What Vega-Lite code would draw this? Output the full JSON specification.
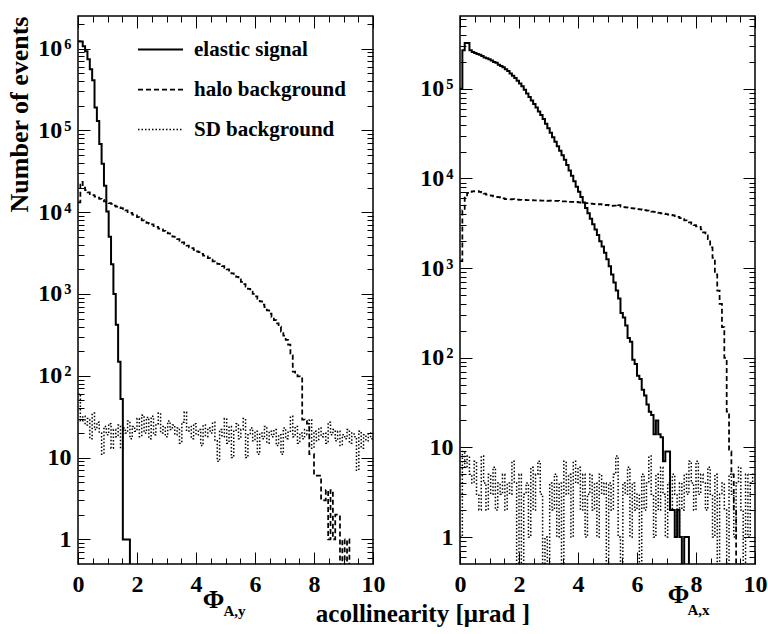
{
"$schema": "https://vega.github.io/schema/vega-lite/v6.json",
"background": "white",
"padding": {"left": 6, "top": 14, "right": 2, "bottom": 4},
"config": {
  "font": "Liberation Serif",
  "view": {"stroke": "black", "strokeWidth": 1.5},
  "axis": {"labelFont": "Liberation Serif", "labelFontWeight": "bold", "labelFontSize": 24, "labelColor": "black", "tickColor": "black", "tickWidth": 1, "domain": false, "grid": false, "labelFlush": false, "titleFont": "Liberation Serif", "titleFontWeight": "bold", "titleColor": "black"},
  "legend": {"labelFont": "Liberation Serif", "labelFontWeight": "bold", "labelFontSize": 21, "labelColor": "black"}
},
"title": {"text": "acollinearity [\u03bcrad ]", "orient": "bottom", "anchor": "middle", "fontSize": 25, "font": "Liberation Serif", "fontWeight": "bold", "color": "black", "offset": -17, "dx": 36},
"datasets": {
"left": [
{"series":"E","x":0,"n":1230000},{"series":"E","x":0.08,"n":1220000},{"series":"E","x":0.16,"n":1070000},{"series":"E","x":0.24,"n":930000},{"series":"E","x":0.32,"n":740000},{"series":"E","x":0.4,"n":560000},{"series":"E","x":0.48,"n":410000},{"series":"E","x":0.56,"n":190000},{"series":"E","x":0.64,"n":130000},{"series":"E","x":0.72,"n":68000},{"series":"E","x":0.8,"n":39000},{"series":"E","x":0.88,"n":21000},{"series":"E","x":0.96,"n":10200},{"series":"E","x":1.04,"n":5000},{"series":"E","x":1.12,"n":2300},{"series":"E","x":1.2,"n":1000},{"series":"E","x":1.28,"n":420},{"series":"E","x":1.36,"n":148},{"series":"E","x":1.44,"n":52},{"series":"E","x":1.52,"n":1},{"series":"E","x":1.6,"n":1},{"series":"E","x":1.68,"n":1},{"series":"E","x":1.76,"n":0.1},
{"series":"H","x":0,"n":13200},{"series":"H","x":0.08,"n":23400},{"series":"H","x":0.16,"n":20000},{"series":"H","x":0.24,"n":18600},{"series":"H","x":0.32,"n":17400},{"series":"H","x":0.4,"n":16600},{"series":"H","x":0.48,"n":16200},{"series":"H","x":0.56,"n":15500},{"series":"H","x":0.64,"n":15100},{"series":"H","x":0.72,"n":14500},{"series":"H","x":0.8,"n":14100},{"series":"H","x":0.88,"n":13500},{"series":"H","x":0.96,"n":13200},{"series":"H","x":1.04,"n":12900},{"series":"H","x":1.12,"n":12600},{"series":"H","x":1.2,"n":12000},{"series":"H","x":1.28,"n":11700},{"series":"H","x":1.36,"n":11500},{"series":"H","x":1.44,"n":11200},{"series":"H","x":1.52,"n":11000},{"series":"H","x":1.6,"n":10500},{"series":"H","x":1.68,"n":10000},{"series":"H","x":1.76,"n":9770},{"series":"H","x":1.84,"n":9330},{"series":"H","x":1.92,"n":9120},{"series":"H","x":2,"n":8710},{"series":"H","x":2.08,"n":8320},{"series":"H","x":2.16,"n":7940},{"series":"H","x":2.24,"n":7760},{"series":"H","x":2.32,"n":7410},{"series":"H","x":2.4,"n":7240},{"series":"H","x":2.48,"n":7080},{"series":"H","x":2.56,"n":6760},{"series":"H","x":2.64,"n":6610},{"series":"H","x":2.72,"n":6310},{"series":"H","x":2.8,"n":6170},{"series":"H","x":2.88,"n":5890},{"series":"H","x":2.96,"n":5620},{"series":"H","x":3.04,"n":5500},{"series":"H","x":3.12,"n":5250},{"series":"H","x":3.2,"n":5010},{"series":"H","x":3.28,"n":4790},{"series":"H","x":3.36,"n":4680},{"series":"H","x":3.44,"n":4470},{"series":"H","x":3.52,"n":4270},{"series":"H","x":3.6,"n":4070},{"series":"H","x":3.68,"n":3890},{"series":"H","x":3.76,"n":3720},{"series":"H","x":3.84,"n":3630},{"series":"H","x":3.92,"n":3470},{"series":"H","x":4,"n":3310},{"series":"H","x":4.08,"n":3240},{"series":"H","x":4.16,"n":3090},{"series":"H","x":4.24,"n":2950},{"series":"H","x":4.32,"n":2880},{"series":"H","x":4.4,"n":2750},{"series":"H","x":4.48,"n":2630},{"series":"H","x":4.56,"n":2510},{"series":"H","x":4.64,"n":2450},{"series":"H","x":4.72,"n":2340},{"series":"H","x":4.8,"n":2240},{"series":"H","x":4.88,"n":2190},{"series":"H","x":4.96,"n":2090},{"series":"H","x":5.04,"n":2000},{"series":"H","x":5.12,"n":1860},{"series":"H","x":5.2,"n":1780},{"series":"H","x":5.28,"n":1700},{"series":"H","x":5.36,"n":1620},{"series":"H","x":5.44,"n":1510},{"series":"H","x":5.52,"n":1410},{"series":"H","x":5.6,"n":1320},{"series":"H","x":5.68,"n":1230},{"series":"H","x":5.76,"n":1150},{"series":"H","x":5.84,"n":1070},{"series":"H","x":5.92,"n":1000},{"series":"H","x":6,"n":933},{"series":"H","x":6.08,"n":871},{"series":"H","x":6.16,"n":813},{"series":"H","x":6.24,"n":741},{"series":"H","x":6.32,"n":692},{"series":"H","x":6.4,"n":631},{"series":"H","x":6.48,"n":575},{"series":"H","x":6.56,"n":525},{"series":"H","x":6.64,"n":479},{"series":"H","x":6.72,"n":437},{"series":"H","x":6.8,"n":398},{"series":"H","x":6.88,"n":347},{"series":"H","x":6.96,"n":309},{"series":"H","x":7.04,"n":275},{"series":"H","x":7.12,"n":240},{"series":"H","x":7.2,"n":178},{"series":"H","x":7.28,"n":112},{"series":"H","x":7.36,"n":105},{"series":"H","x":7.44,"n":98},{"series":"H","x":7.52,"n":93},{"series":"H","x":7.6,"n":29},{"series":"H","x":7.68,"n":28},{"series":"H","x":7.76,"n":26},{"series":"H","x":7.84,"n":11},{"series":"H","x":7.92,"n":11},{"series":"H","x":8,"n":6},{"series":"H","x":8.08,"n":6},{"series":"H","x":8.16,"n":6},{"series":"H","x":8.24,"n":3},{"series":"H","x":8.32,"n":3},{"series":"H","x":8.4,"n":4},{"series":"H","x":8.48,"n":1},{"series":"H","x":8.56,"n":4},{"series":"H","x":8.64,"n":1},{"series":"H","x":8.72,"n":2},{"series":"H","x":8.8,"n":2},{"series":"H","x":8.88,"n":0.1},{"series":"H","x":8.96,"n":1},{"series":"H","x":9.04,"n":0.1},{"series":"H","x":9.12,"n":1},{"series":"H","x":9.2,"n":0.1},
{"series":"S","x":0,"n":60},{"series":"S","x":0.08,"n":28},{"series":"S","x":0.16,"n":32},{"series":"S","x":0.24,"n":25},{"series":"S","x":0.32,"n":30},{"series":"S","x":0.4,"n":17},{"series":"S","x":0.48,"n":35},{"series":"S","x":0.56,"n":22},{"series":"S","x":0.64,"n":27},{"series":"S","x":0.72,"n":20},{"series":"S","x":0.8,"n":11},{"series":"S","x":0.88,"n":24},{"series":"S","x":0.96,"n":19},{"series":"S","x":1.04,"n":26},{"series":"S","x":1.12,"n":13},{"series":"S","x":1.2,"n":22},{"series":"S","x":1.28,"n":18},{"series":"S","x":1.36,"n":25},{"series":"S","x":1.44,"n":13},{"series":"S","x":1.52,"n":23},{"series":"S","x":1.6,"n":20},{"series":"S","x":1.68,"n":28},{"series":"S","x":1.76,"n":17},{"series":"S","x":1.84,"n":24},{"series":"S","x":1.92,"n":21},{"series":"S","x":2,"n":30},{"series":"S","x":2.08,"n":18},{"series":"S","x":2.16,"n":33},{"series":"S","x":2.24,"n":20},{"series":"S","x":2.32,"n":31},{"series":"S","x":2.4,"n":17},{"series":"S","x":2.48,"n":32},{"series":"S","x":2.56,"n":19},{"series":"S","x":2.64,"n":26},{"series":"S","x":2.72,"n":35},{"series":"S","x":2.8,"n":20},{"series":"S","x":2.88,"n":24},{"series":"S","x":2.96,"n":18},{"series":"S","x":3.04,"n":28},{"series":"S","x":3.12,"n":22},{"series":"S","x":3.2,"n":25},{"series":"S","x":3.28,"n":19},{"series":"S","x":3.36,"n":23},{"series":"S","x":3.44,"n":15},{"series":"S","x":3.52,"n":27},{"series":"S","x":3.6,"n":36},{"series":"S","x":3.68,"n":21},{"series":"S","x":3.76,"n":24},{"series":"S","x":3.84,"n":17},{"series":"S","x":3.92,"n":26},{"series":"S","x":4,"n":19},{"series":"S","x":4.08,"n":22},{"series":"S","x":4.16,"n":14},{"series":"S","x":4.24,"n":25},{"series":"S","x":4.32,"n":18},{"series":"S","x":4.4,"n":23},{"series":"S","x":4.48,"n":20},{"series":"S","x":4.56,"n":27},{"series":"S","x":4.64,"n":16},{"series":"S","x":4.72,"n":9},{"series":"S","x":4.8,"n":22},{"series":"S","x":4.88,"n":18},{"series":"S","x":4.96,"n":30},{"series":"S","x":5.04,"n":15},{"series":"S","x":5.12,"n":24},{"series":"S","x":5.2,"n":10},{"series":"S","x":5.28,"n":21},{"series":"S","x":5.36,"n":26},{"series":"S","x":5.44,"n":17},{"series":"S","x":5.52,"n":22},{"series":"S","x":5.6,"n":30},{"series":"S","x":5.68,"n":10},{"series":"S","x":5.76,"n":19},{"series":"S","x":5.84,"n":23},{"series":"S","x":5.92,"n":16},{"series":"S","x":6,"n":21},{"series":"S","x":6.08,"n":11},{"series":"S","x":6.16,"n":20},{"series":"S","x":6.24,"n":17},{"series":"S","x":6.32,"n":24},{"series":"S","x":6.4,"n":15},{"series":"S","x":6.48,"n":21},{"series":"S","x":6.56,"n":18},{"series":"S","x":6.64,"n":22},{"series":"S","x":6.72,"n":14},{"series":"S","x":6.8,"n":19},{"series":"S","x":6.88,"n":11},{"series":"S","x":6.96,"n":23},{"series":"S","x":7.04,"n":17},{"series":"S","x":7.12,"n":21},{"series":"S","x":7.2,"n":32},{"series":"S","x":7.28,"n":18},{"series":"S","x":7.36,"n":24},{"series":"S","x":7.44,"n":15},{"series":"S","x":7.52,"n":20},{"series":"S","x":7.6,"n":17},{"series":"S","x":7.68,"n":22},{"series":"S","x":7.76,"n":19},{"series":"S","x":7.84,"n":29},{"series":"S","x":7.92,"n":13},{"series":"S","x":8,"n":21},{"series":"S","x":8.08,"n":16},{"series":"S","x":8.16,"n":23},{"series":"S","x":8.24,"n":18},{"series":"S","x":8.32,"n":20},{"series":"S","x":8.4,"n":15},{"series":"S","x":8.48,"n":27},{"series":"S","x":8.56,"n":19},{"series":"S","x":8.64,"n":22},{"series":"S","x":8.72,"n":16},{"series":"S","x":8.8,"n":21},{"series":"S","x":8.88,"n":14},{"series":"S","x":8.96,"n":19},{"series":"S","x":9.04,"n":17},{"series":"S","x":9.12,"n":22},{"series":"S","x":9.2,"n":15},{"series":"S","x":9.28,"n":20},{"series":"S","x":9.36,"n":18},{"series":"S","x":9.44,"n":7},{"series":"S","x":9.52,"n":21},{"series":"S","x":9.6,"n":13},{"series":"S","x":9.68,"n":19},{"series":"S","x":9.76,"n":16},{"series":"S","x":9.84,"n":20},{"series":"S","x":9.92,"n":17},{"series":"S","x":10,"n":17}
],
"right": [
{"series":"E","x":0,"n":100000},{"series":"E","x":0.08,"n":270000},{"series":"E","x":0.16,"n":324000},{"series":"E","x":0.24,"n":324000},{"series":"E","x":0.32,"n":270000},{"series":"E","x":0.4,"n":257000},{"series":"E","x":0.48,"n":251000},{"series":"E","x":0.56,"n":245000},{"series":"E","x":0.64,"n":240000},{"series":"E","x":0.72,"n":232000},{"series":"E","x":0.8,"n":224000},{"series":"E","x":0.88,"n":219000},{"series":"E","x":0.96,"n":214000},{"series":"E","x":1.04,"n":207000},{"series":"E","x":1.12,"n":200000},{"series":"E","x":1.2,"n":195000},{"series":"E","x":1.28,"n":186000},{"series":"E","x":1.36,"n":180000},{"series":"E","x":1.44,"n":174000},{"series":"E","x":1.52,"n":166000},{"series":"E","x":1.6,"n":158000},{"series":"E","x":1.68,"n":148000},{"series":"E","x":1.76,"n":140000},{"series":"E","x":1.84,"n":132000},{"series":"E","x":1.92,"n":123000},{"series":"E","x":2,"n":115000},{"series":"E","x":2.08,"n":107000},{"series":"E","x":2.16,"n":98000},{"series":"E","x":2.24,"n":89000},{"series":"E","x":2.32,"n":81000},{"series":"E","x":2.4,"n":74000},{"series":"E","x":2.48,"n":68000},{"series":"E","x":2.56,"n":62000},{"series":"E","x":2.64,"n":56000},{"series":"E","x":2.72,"n":51000},{"series":"E","x":2.8,"n":46000},{"series":"E","x":2.88,"n":40700},{"series":"E","x":2.96,"n":36300},{"series":"E","x":3.04,"n":32400},{"series":"E","x":3.12,"n":28800},{"series":"E","x":3.2,"n":25700},{"series":"E","x":3.28,"n":22900},{"series":"E","x":3.36,"n":20400},{"series":"E","x":3.44,"n":18200},{"series":"E","x":3.52,"n":16200},{"series":"E","x":3.6,"n":14100},{"series":"E","x":3.68,"n":12300},{"series":"E","x":3.76,"n":10700},{"series":"E","x":3.84,"n":9300},{"series":"E","x":3.92,"n":8100},{"series":"E","x":4,"n":7100},{"series":"E","x":4.08,"n":6200},{"series":"E","x":4.16,"n":5400},{"series":"E","x":4.24,"n":4700},{"series":"E","x":4.32,"n":4100},{"series":"E","x":4.4,"n":3550},{"series":"E","x":4.48,"n":3090},{"series":"E","x":4.56,"n":2690},{"series":"E","x":4.64,"n":2340},{"series":"E","x":4.72,"n":2000},{"series":"E","x":4.8,"n":1740},{"series":"E","x":4.88,"n":1480},{"series":"E","x":4.96,"n":1260},{"series":"E","x":5.04,"n":1050},{"series":"E","x":5.12,"n":851},{"series":"E","x":5.2,"n":692},{"series":"E","x":5.28,"n":562},{"series":"E","x":5.36,"n":457},{"series":"E","x":5.44,"n":316},{"series":"E","x":5.52,"n":282},{"series":"E","x":5.6,"n":229},{"series":"E","x":5.68,"n":166},{"series":"E","x":5.76,"n":151},{"series":"E","x":5.84,"n":95},{"series":"E","x":5.92,"n":85},{"series":"E","x":6,"n":63},{"series":"E","x":6.08,"n":58},{"series":"E","x":6.16,"n":44},{"series":"E","x":6.24,"n":38},{"series":"E","x":6.32,"n":30},{"series":"E","x":6.4,"n":25},{"series":"E","x":6.48,"n":23},{"series":"E","x":6.56,"n":14},{"series":"E","x":6.64,"n":20},{"series":"E","x":6.72,"n":14},{"series":"E","x":6.8,"n":13},{"series":"E","x":6.88,"n":7},{"series":"E","x":6.96,"n":9},{"series":"E","x":7.04,"n":9},{"series":"E","x":7.12,"n":2},{"series":"E","x":7.2,"n":2},{"series":"E","x":7.28,"n":1},{"series":"E","x":7.36,"n":2},{"series":"E","x":7.44,"n":1},{"series":"E","x":7.52,"n":0.1},{"series":"E","x":7.6,"n":1},{"series":"E","x":7.68,"n":1},{"series":"E","x":7.76,"n":0.1},
{"series":"H","x":0,"n":1200},{"series":"H","x":0.08,"n":4400},{"series":"H","x":0.16,"n":6500},{"series":"H","x":0.24,"n":6900},{"series":"H","x":0.32,"n":7100},{"series":"H","x":0.4,"n":7200},{"series":"H","x":0.48,"n":7240},{"series":"H","x":0.56,"n":7240},{"series":"H","x":0.64,"n":7100},{"series":"H","x":0.72,"n":7000},{"series":"H","x":0.8,"n":6800},{"series":"H","x":0.88,"n":6600},{"series":"H","x":0.96,"n":6500},{"series":"H","x":1.04,"n":6450},{"series":"H","x":1.12,"n":6300},{"series":"H","x":1.2,"n":6250},{"series":"H","x":1.28,"n":6200},{"series":"H","x":1.36,"n":6100},{"series":"H","x":1.44,"n":6000},{"series":"H","x":1.52,"n":5900},{"series":"H","x":1.6,"n":5880},{"series":"H","x":1.68,"n":5850},{"series":"H","x":1.76,"n":5870},{"series":"H","x":1.84,"n":5820},{"series":"H","x":1.92,"n":5800},{"series":"H","x":2,"n":5790},{"series":"H","x":2.08,"n":5760},{"series":"H","x":2.16,"n":5780},{"series":"H","x":2.24,"n":5740},{"series":"H","x":2.32,"n":5720},{"series":"H","x":2.4,"n":5750},{"series":"H","x":2.48,"n":5700},{"series":"H","x":2.56,"n":5690},{"series":"H","x":2.64,"n":5710},{"series":"H","x":2.72,"n":5670},{"series":"H","x":2.8,"n":5660},{"series":"H","x":2.88,"n":5680},{"series":"H","x":2.96,"n":5640},{"series":"H","x":3.04,"n":5650},{"series":"H","x":3.12,"n":5620},{"series":"H","x":3.2,"n":5610},{"series":"H","x":3.28,"n":5630},{"series":"H","x":3.36,"n":5590},{"series":"H","x":3.44,"n":5570},{"series":"H","x":3.52,"n":5540},{"series":"H","x":3.6,"n":5560},{"series":"H","x":3.68,"n":5500},{"series":"H","x":3.76,"n":5480},{"series":"H","x":3.84,"n":5450},{"series":"H","x":3.92,"n":5470},{"series":"H","x":4,"n":5400},{"series":"H","x":4.08,"n":5380},{"series":"H","x":4.16,"n":5350},{"series":"H","x":4.24,"n":5300},{"series":"H","x":4.32,"n":5320},{"series":"H","x":4.4,"n":5240},{"series":"H","x":4.48,"n":5220},{"series":"H","x":4.56,"n":5190},{"series":"H","x":4.64,"n":5150},{"series":"H","x":4.72,"n":5180},{"series":"H","x":4.8,"n":5100},{"series":"H","x":4.88,"n":5050},{"series":"H","x":4.96,"n":5070},{"series":"H","x":5.04,"n":5000},{"series":"H","x":5.12,"n":4960},{"series":"H","x":5.2,"n":4990},{"series":"H","x":5.28,"n":5150},{"series":"H","x":5.36,"n":5050},{"series":"H","x":5.44,"n":4850},{"series":"H","x":5.52,"n":4790},{"series":"H","x":5.6,"n":4760},{"series":"H","x":5.68,"n":4720},{"series":"H","x":5.76,"n":4680},{"series":"H","x":5.84,"n":4650},{"series":"H","x":5.92,"n":4600},{"series":"H","x":6,"n":4560},{"series":"H","x":6.08,"n":4520},{"series":"H","x":6.16,"n":4480},{"series":"H","x":6.24,"n":4430},{"series":"H","x":6.32,"n":4390},{"series":"H","x":6.4,"n":4330},{"series":"H","x":6.48,"n":4280},{"series":"H","x":6.56,"n":4230},{"series":"H","x":6.64,"n":4170},{"series":"H","x":6.72,"n":4130},{"series":"H","x":6.8,"n":4090},{"series":"H","x":6.88,"n":4050},{"series":"H","x":6.96,"n":4010},{"series":"H","x":7.04,"n":3960},{"series":"H","x":7.12,"n":3920},{"series":"H","x":7.2,"n":3880},{"series":"H","x":7.28,"n":3800},{"series":"H","x":7.36,"n":3720},{"series":"H","x":7.44,"n":3620},{"series":"H","x":7.52,"n":3520},{"series":"H","x":7.6,"n":3420},{"series":"H","x":7.68,"n":3320},{"series":"H","x":7.76,"n":3240},{"series":"H","x":7.84,"n":3120},{"series":"H","x":7.92,"n":3010},{"series":"H","x":8,"n":2930},{"series":"H","x":8.08,"n":2880},{"series":"H","x":8.16,"n":2700},{"series":"H","x":8.24,"n":2500},{"series":"H","x":8.32,"n":2320},{"series":"H","x":8.4,"n":2100},{"series":"H","x":8.48,"n":1700},{"series":"H","x":8.56,"n":1300},{"series":"H","x":8.64,"n":850},{"series":"H","x":8.72,"n":560},{"series":"H","x":8.8,"n":400},{"series":"H","x":8.88,"n":220},{"series":"H","x":8.96,"n":100},{"series":"H","x":9.04,"n":25},{"series":"H","x":9.12,"n":9},{"series":"H","x":9.2,"n":5},{"series":"H","x":9.28,"n":2},{"series":"H","x":9.36,"n":0.1},
{"series":"S","x":0,"n":1},{"series":"S","x":0.08,"n":9},{"series":"S","x":0.16,"n":6},{"series":"S","x":0.24,"n":8},{"series":"S","x":0.32,"n":5},{"series":"S","x":0.4,"n":4},{"series":"S","x":0.48,"n":7},{"series":"S","x":0.56,"n":3},{"series":"S","x":0.64,"n":2},{"series":"S","x":0.72,"n":8},{"series":"S","x":0.8,"n":4},{"series":"S","x":0.88,"n":2},{"series":"S","x":0.96,"n":5},{"series":"S","x":1.04,"n":3},{"series":"S","x":1.12,"n":6},{"series":"S","x":1.2,"n":2},{"series":"S","x":1.28,"n":4},{"series":"S","x":1.36,"n":3},{"series":"S","x":1.44,"n":5},{"series":"S","x":1.52,"n":2},{"series":"S","x":1.6,"n":4},{"series":"S","x":1.68,"n":3},{"series":"S","x":1.76,"n":7},{"series":"S","x":1.84,"n":4},{"series":"S","x":1.92,"n":0.1},{"series":"S","x":2,"n":5},{"series":"S","x":2.08,"n":0.1},{"series":"S","x":2.16,"n":3},{"series":"S","x":2.24,"n":4},{"series":"S","x":2.32,"n":1},{"series":"S","x":2.4,"n":6},{"series":"S","x":2.48,"n":2},{"series":"S","x":2.56,"n":5},{"series":"S","x":2.64,"n":7},{"series":"S","x":2.72,"n":3},{"series":"S","x":2.8,"n":0.1},{"series":"S","x":2.88,"n":1},{"series":"S","x":2.96,"n":0.1},{"series":"S","x":3.04,"n":4},{"series":"S","x":3.12,"n":2},{"series":"S","x":3.2,"n":5},{"series":"S","x":3.28,"n":1},{"series":"S","x":3.36,"n":4},{"series":"S","x":3.44,"n":0.1},{"series":"S","x":3.52,"n":7},{"series":"S","x":3.6,"n":3},{"series":"S","x":3.68,"n":5},{"series":"S","x":3.76,"n":1},{"series":"S","x":3.84,"n":7},{"series":"S","x":3.92,"n":4},{"series":"S","x":4,"n":6},{"series":"S","x":4.08,"n":2},{"series":"S","x":4.16,"n":5},{"series":"S","x":4.24,"n":1},{"series":"S","x":4.32,"n":3},{"series":"S","x":4.4,"n":5},{"series":"S","x":4.48,"n":2},{"series":"S","x":4.56,"n":4},{"series":"S","x":4.64,"n":1},{"series":"S","x":4.72,"n":5},{"series":"S","x":4.8,"n":3},{"series":"S","x":4.88,"n":4},{"series":"S","x":4.96,"n":0.1},{"series":"S","x":5.04,"n":4},{"series":"S","x":5.12,"n":2},{"series":"S","x":5.2,"n":5},{"series":"S","x":5.28,"n":8},{"series":"S","x":5.36,"n":1},{"series":"S","x":5.44,"n":0.1},{"series":"S","x":5.52,"n":4},{"series":"S","x":5.6,"n":3},{"series":"S","x":5.68,"n":6},{"series":"S","x":5.76,"n":1},{"series":"S","x":5.84,"n":4},{"series":"S","x":5.92,"n":2},{"series":"S","x":6,"n":3},{"series":"S","x":6.08,"n":0.1},{"series":"S","x":6.16,"n":5},{"series":"S","x":6.24,"n":2},{"series":"S","x":6.32,"n":4},{"series":"S","x":6.4,"n":8},{"series":"S","x":6.48,"n":3},{"series":"S","x":6.56,"n":1},{"series":"S","x":6.64,"n":5},{"series":"S","x":6.72,"n":2},{"series":"S","x":6.8,"n":6},{"series":"S","x":6.88,"n":3},{"series":"S","x":6.96,"n":1},{"series":"S","x":7.04,"n":4},{"series":"S","x":7.12,"n":2},{"series":"S","x":7.2,"n":5},{"series":"S","x":7.28,"n":3},{"series":"S","x":7.36,"n":1},{"series":"S","x":7.44,"n":4},{"series":"S","x":7.52,"n":2},{"series":"S","x":7.6,"n":5},{"series":"S","x":7.68,"n":3},{"series":"S","x":7.76,"n":7},{"series":"S","x":7.84,"n":4},{"series":"S","x":7.92,"n":2},{"series":"S","x":8,"n":7},{"series":"S","x":8.08,"n":3},{"series":"S","x":8.16,"n":5},{"series":"S","x":8.24,"n":4},{"series":"S","x":8.32,"n":2},{"series":"S","x":8.4,"n":6},{"series":"S","x":8.48,"n":3},{"series":"S","x":8.56,"n":1},{"series":"S","x":8.64,"n":5},{"series":"S","x":8.72,"n":0.1},{"series":"S","x":8.8,"n":3},{"series":"S","x":8.88,"n":4},{"series":"S","x":8.96,"n":2},{"series":"S","x":9.04,"n":0.1},{"series":"S","x":9.12,"n":5},{"series":"S","x":9.2,"n":3},{"series":"S","x":9.28,"n":1},{"series":"S","x":9.36,"n":4},{"series":"S","x":9.44,"n":6},{"series":"S","x":9.52,"n":2},{"series":"S","x":9.6,"n":0.1},{"series":"S","x":9.68,"n":5},{"series":"S","x":9.76,"n":1},{"series":"S","x":9.84,"n":4},{"series":"S","x":9.92,"n":5},{"series":"S","x":10,"n":5}
]
},
"spacing": 33,
"resolve": {"scale": {"strokeDash": "independent", "strokeWidth": "independent"}},
"hconcat": [
{
  "width": 295, "height": 548,
  "data": {"name": "left"},
  "layer": [
    {"mark": {"type": "line", "interpolate": "step-after", "clip": true, "color": "black"},
     "encoding": {
       "x": {"field": "x", "type": "quantitative", "scale": {"domain": [0, 10], "nice": false, "zero": false},
             "axis": {"orient": "bottom", "values": [0, 2, 4, 6, 8, 10], "tickSize": -12, "labelPadding": 20, "labelFont": "Liberation Serif", "labelFontSize": 24, "labelFontWeight": "bold", "title": "\u03a6", "titleFontSize": 26, "titleX": 135, "titleY": 43, "titleBaseline": "alphabetic", "titleAlign": "center"}},
       "y": {"field": "n", "type": "quantitative", "scale": {"type": "log", "domain": [0.5, 2500000], "nice": false},
             "axis": {"orient": "left", "values": [1, 10, 100, 1000, 10000, 100000, 1000000], "tickSize": -12, "labelPadding": 19, "labelFont": "Liberation Serif", "labelFontSize": 24, "labelFontWeight": "bold",
                      "labelExpr": "datum.value < 5 ? '1\u2002' : datum.value < 50 ? '10\u2002' : datum.value < 500 ? '10\u200a\u00b2' : datum.value < 5000 ? '10\u200a\u00b3' : datum.value < 50000 ? '10\u200a\u2074' : datum.value < 500000 ? '10\u200a\u2075' : '10\u200a\u2076'",
                      "title": "Number of events", "titleFontSize": 26, "titleAnchor": "end", "titlePadding": 5}},
       "strokeDash": {"field": "series", "type": "nominal", "scale": {"domain": ["E", "H", "S"], "range": [[1, 0], [5, 3], [1.5, 2]]},
             "legend": {"orient": "none", "legendX": 59, "legendY": 10, "title": null, "symbolType": "stroke", "symbolSize": 2025, "symbolStrokeWidth": 1.5, "symbolStrokeColor": "black", "labelOffset": 10, "rowPadding": 6,
                        "labelExpr": "datum.label == 'E' ? 'elastic signal' : datum.label == 'H' ? 'halo background' : 'SD background'"}},
       "strokeWidth": {"field": "series", "type": "nominal", "scale": {"domain": ["E", "H", "S"], "range": [2, 1.5, 1.5]}, "legend": null}
     }},
    {"mark": {"type": "point", "opacity": 0, "clip": true},
     "encoding": {
       "x": {"field": "x", "type": "quantitative", "axis": {"orient": "bottom", "values": [0.5, 1, 1.5, 2.5, 3, 3.5, 4.5, 5, 5.5, 6.5, 7, 7.5, 8.5, 9, 9.5], "tickSize": -6, "labels": false, "title": "A,y", "titleFontSize": 15, "titleX": 156, "titleY": 51, "titleBaseline": "alphabetic", "titleAlign": "center"}},
       "y": {"field": "n", "type": "quantitative", "axis": {"orient": "left", "values": [0.6, 0.7, 0.8, 0.9, 2, 3, 4, 5, 6, 7, 8, 9, 20, 30, 40, 50, 60, 70, 80, 90, 200, 300, 400, 500, 600, 700, 800, 900, 2000, 3000, 4000, 5000, 6000, 7000, 8000, 9000, 20000, 30000, 40000, 50000, 60000, 70000, 80000, 90000, 200000, 300000, 400000, 500000, 600000, 700000, 800000, 900000, 2000000], "tickSize": -6, "labels": false, "title": null}}
     }},
    {"mark": {"type": "point", "opacity": 0, "clip": true},
     "encoding": {
       "x": {"field": "x", "type": "quantitative", "axis": {"orient": "top", "values": [0, 2, 4, 6, 8, 10], "tickSize": -12, "labels": false, "title": null}},
       "y": {"field": "n", "type": "quantitative", "axis": {"orient": "right", "values": [1, 10, 100, 1000, 10000, 100000, 1000000], "tickSize": -12, "labels": false, "title": null}}
     }},
    {"mark": {"type": "point", "opacity": 0, "clip": true},
     "encoding": {
       "x": {"field": "x", "type": "quantitative", "axis": {"orient": "top", "values": [0.5, 1, 1.5, 2.5, 3, 3.5, 4.5, 5, 5.5, 6.5, 7, 7.5, 8.5, 9, 9.5], "tickSize": -6, "labels": false, "title": null}},
       "y": {"field": "n", "type": "quantitative", "axis": {"orient": "right", "values": [0.6, 0.7, 0.8, 0.9, 2, 3, 4, 5, 6, 7, 8, 9, 20, 30, 40, 50, 60, 70, 80, 90, 200, 300, 400, 500, 600, 700, 800, 900, 2000, 3000, 4000, 5000, 6000, 7000, 8000, 9000, 20000, 30000, 40000, 50000, 60000, 70000, 80000, 90000, 200000, 300000, 400000, 500000, 600000, 700000, 800000, 900000, 2000000], "tickSize": -6, "labels": false, "title": null}}
     }}
  ],
  "resolve": {"axis": {"x": "independent", "y": "independent"}}
},
{
  "width": 295, "height": 548,
  "data": {"name": "right"},
  "layer": [
    {"mark": {"type": "line", "interpolate": "step-after", "clip": true, "color": "black"},
     "encoding": {
       "x": {"field": "x", "type": "quantitative", "scale": {"domain": [0, 10], "nice": false, "zero": false},
             "axis": {"orient": "bottom", "values": [0, 2, 4, 6, 8, 10], "tickSize": -12, "labelPadding": 20, "labelFont": "Liberation Serif", "labelFontSize": 24, "labelFontWeight": "bold", "title": "\u03a6", "titleFontSize": 26, "titleX": 218, "titleY": 38, "titleBaseline": "alphabetic", "titleAlign": "center"}},
       "y": {"field": "n", "type": "quantitative", "scale": {"type": "log", "domain": [0.5, 650000], "nice": false},
             "axis": {"orient": "left", "values": [1, 10, 100, 1000, 10000, 100000], "tickSize": -12, "labelPadding": 19, "labelFont": "Liberation Serif", "labelFontSize": 24, "labelFontWeight": "bold",
                      "labelExpr": "datum.value < 5 ? '1\u2002' : datum.value < 50 ? '10\u2002' : datum.value < 500 ? '10\u200a\u00b2' : datum.value < 5000 ? '10\u200a\u00b3' : datum.value < 50000 ? '10\u200a\u2074' : datum.value < 500000 ? '10\u200a\u2075' : '10\u200a\u2076'",
                      "title": null}},
       "strokeDash": {"field": "series", "type": "nominal", "scale": {"domain": ["E", "H", "S"], "range": [[1, 0], [5, 3], [1.5, 2]]}, "legend": null},
       "strokeWidth": {"field": "series", "type": "nominal", "scale": {"domain": ["E", "H", "S"], "range": [2, 1.5, 1.5]}, "legend": null}
     }},
    {"mark": {"type": "point", "opacity": 0, "clip": true},
     "encoding": {
       "x": {"field": "x", "type": "quantitative", "axis": {"orient": "bottom", "values": [0.5, 1, 1.5, 2.5, 3, 3.5, 4.5, 5, 5.5, 6.5, 7, 7.5, 8.5, 9, 9.5], "tickSize": -6, "labels": false, "title": "A,x", "titleFontSize": 15, "titleX": 238, "titleY": 50, "titleBaseline": "alphabetic", "titleAlign": "center"}},
       "y": {"field": "n", "type": "quantitative", "axis": {"orient": "left", "values": [0.6, 0.7, 0.8, 0.9, 2, 3, 4, 5, 6, 7, 8, 9, 20, 30, 40, 50, 60, 70, 80, 90, 200, 300, 400, 500, 600, 700, 800, 900, 2000, 3000, 4000, 5000, 6000, 7000, 8000, 9000, 20000, 30000, 40000, 50000, 60000, 70000, 80000, 90000, 200000, 300000, 400000, 500000, 600000], "tickSize": -6, "labels": false, "title": null}}
     }},
    {"mark": {"type": "point", "opacity": 0, "clip": true},
     "encoding": {
       "x": {"field": "x", "type": "quantitative", "axis": {"orient": "top", "values": [0, 2, 4, 6, 8, 10], "tickSize": -12, "labels": false, "title": null}},
       "y": {"field": "n", "type": "quantitative", "axis": {"orient": "right", "values": [1, 10, 100, 1000, 10000, 100000], "tickSize": -12, "labels": false, "title": null}}
     }},
    {"mark": {"type": "point", "opacity": 0, "clip": true},
     "encoding": {
       "x": {"field": "x", "type": "quantitative", "axis": {"orient": "top", "values": [0.5, 1, 1.5, 2.5, 3, 3.5, 4.5, 5, 5.5, 6.5, 7, 7.5, 8.5, 9, 9.5], "tickSize": -6, "labels": false, "title": null}},
       "y": {"field": "n", "type": "quantitative", "axis": {"orient": "right", "values": [0.6, 0.7, 0.8, 0.9, 2, 3, 4, 5, 6, 7, 8, 9, 20, 30, 40, 50, 60, 70, 80, 90, 200, 300, 400, 500, 600, 700, 800, 900, 2000, 3000, 4000, 5000, 6000, 7000, 8000, 9000, 20000, 30000, 40000, 50000, 60000, 70000, 80000, 90000, 200000, 300000, 400000, 500000, 600000], "tickSize": -6, "labels": false, "title": null}}
     }}
  ],
  "resolve": {"axis": {"x": "independent", "y": "independent"}}
}
]
}
